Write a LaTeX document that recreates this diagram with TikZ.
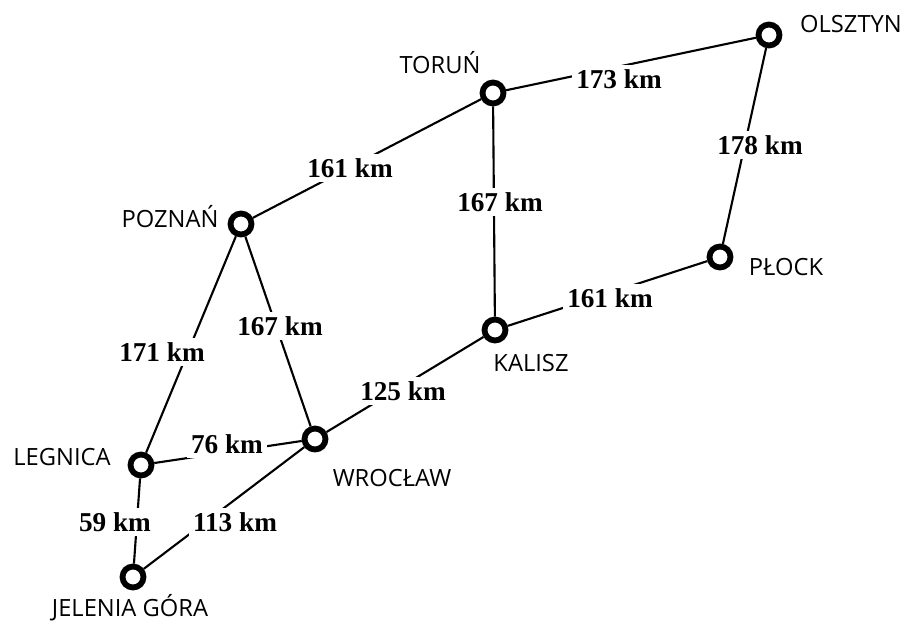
\documentclass[tikz,border=0pt]{standalone}
\usepackage{fontspec}
\setmainfont{Liberation Serif}
\newfontfamily\cityfont{Open Sans}
\usepackage{xcolor}
\colorlet{town edge}{black}
\colorlet{road line}{black}
\tikzset{town/.style={circle, draw=town edge, fill=white, line width=3.3pt, minimum size=0.42cm, inner sep=0pt},
    townname/.style={font=\cityfont\fontsize{13.5}{15}\selectfont, inner sep=1pt},
    dist/.style={fill=white, font=\bfseries\fontsize{15.5}{17}\selectfont, inner sep=2.5pt},
    road/.style={draw=road line, line width=1.2pt}}

\begin{document}
\begin{tikzpicture}[x=0.02cm, y=-0.02cm]
    \useasboundingbox (0,0) rectangle (921,622);
    % towns
    \node[town] (olsztyn) at (769, 35) {};
    \node[town] (torun)   at (493, 93) {};
    \node[town] (poznan)  at (241,224) {};
    \node[town] (plock)   at (720,257) {};
    \node[town] (kalisz)  at (495,330) {};
    \node[town] (legnica) at (141,465) {};
    \node[town] (wroclaw) at (315,439) {};
    \node[town] (jelenia) at (133,577) {};
    % roads
    \draw[road] (torun)   -- (olsztyn);
    \draw[road] (olsztyn) -- (plock);
    \draw[road] (poznan)  -- (torun);
    \draw[road] (torun)   -- (kalisz);
    \draw[road] (kalisz)  -- (plock);
    \draw[road] (poznan)  -- (legnica);
    \draw[road] (poznan)  -- (wroclaw);
    \draw[road] (wroclaw) -- (kalisz);
    \draw[road] (legnica) -- (wroclaw);
    \draw[road] (legnica) -- (jelenia);
    \draw[road] (wroclaw) -- (jelenia);
    % distances
    \node[dist] (d-to-ol) at (619, 79) {173 km};
    \node[dist] (d-ol-pl) at (760,145) {178 km};
    \node[dist] (d-po-to) at (350,168) {161 km};
    \node[dist] (d-to-ka) at (500,202) {167 km};
    \node[dist] (d-ka-pl) at (610,298) {161 km};
    \node[dist] (d-po-le) at (162,352) {171 km};
    \node[dist] (d-po-wr) at (280,326) {167 km};
    \node[dist] (d-wr-ka) at (403,391) {125 km};
    \node[dist] (d-le-wr) at (227,444) {76 km};
    \node[dist] (d-le-je) at (115,522) {59 km};
    \node[dist] (d-wr-je) at (235,522) {113 km};
    % names
    \node[townname] (n-olsztyn) at (851, 24) {OLSZTYN};
    \node[townname] (n-torun)   at (440, 63) {TORUŃ};
    \node[townname] (n-poznan)  at (170,217) {POZNAŃ};
    \node[townname] (n-plock)   at (786,267) {PŁOCK};
    \node[townname] (n-kalisz)  at (531,363) {KALISZ};
    \node[townname] (n-legnica) at ( 62,457) {LEGNICA};
    \node[townname] (n-wroclaw) at (392,478) {WROCŁAW};
    \node[townname] (n-jelenia) at (130,608) {JELENIA GÓRA};
\end{tikzpicture}
\end{document}
